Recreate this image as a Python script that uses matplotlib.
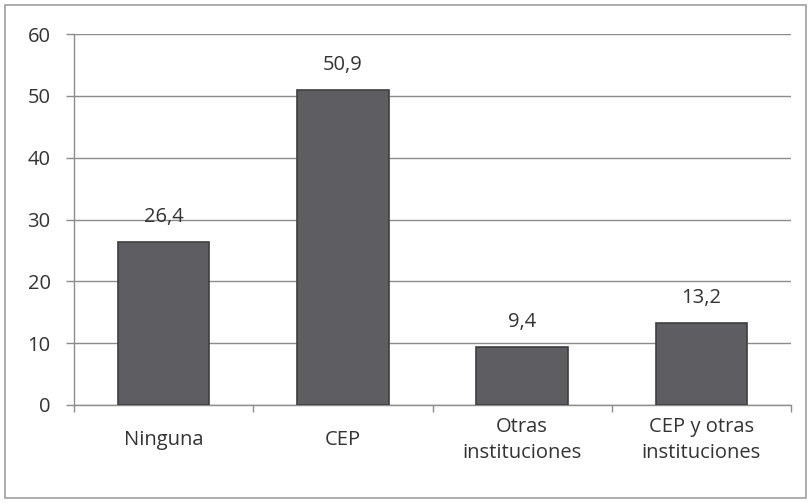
import matplotlib.pyplot as plt
from matplotlib.patches import Rectangle

# Data
categories = ['Ninguna', 'CEP', 'Otras\ninstituciones', 'CEP y otras\ninstituciones']
values = [26.4, 50.9, 9.4, 13.2]
value_labels = ['26,4', '50,9', '9,4', '13,2']
yticks = [0, 10, 20, 30, 40, 50, 60]

plt.rcParams['font.family'] = ['Open Sans', 'DejaVu Sans']
plt.rcParams['font.size'] = 14.5
txt = '#333333'

fig = plt.figure(figsize=(8.11, 5.03), dpi=100)
ax = fig.add_axes([74 / 811, 1 - 405 / 503, (791 - 74) / 811, (405 - 34) / 503])

# outer frame
fig.patches.append(Rectangle((5 / 811, 5 / 503), 801 / 811, 493 / 503, transform=fig.transFigure,
                             fill=False, edgecolor='#a0a0a0', linewidth=1.2))

x = range(len(categories))
ax.bar(x, values, width=0.51, color='#5e5e62', edgecolor='#3e3e40', linewidth=1.2, zorder=3)

for i, v in enumerate(values):
    ax.annotate(value_labels[i], (i, v), xytext=(0, 18), textcoords='offset points',
                ha='center', va='center', color=txt)

ax.set_xlim(-0.5, len(categories) - 0.5)
ax.set_ylim(0, 60)
ax.set_yticks(yticks)
ax.yaxis.grid(True, color='#8c8c8c', linewidth=1.0, zorder=0)
ax.set_axisbelow(True)

ax.set_xticks([i - 0.5 for i in range(len(categories) + 1)], minor=False)
ax.set_xticklabels([])
ax.set_xticks(list(x), minor=True)
ax.set_xticklabels(categories, minor=True, color=txt, linespacing=1.4, va='center')
ax.tick_params(axis='x', which='minor', length=0, pad=25)
ax.tick_params(axis='x', which='major', length=5, color='#8c8c8c', width=1)
ax.tick_params(axis='y', length=5.8, color='#8c8c8c', width=1, pad=11, labelcolor=txt)

for s in ['top', 'right']:
    ax.spines[s].set_visible(False)
for s in ['left', 'bottom']:
    ax.spines[s].set_color('#8c8c8c')
    ax.spines[s].set_linewidth(1)

fig.savefig('out.png', dpi=100)
